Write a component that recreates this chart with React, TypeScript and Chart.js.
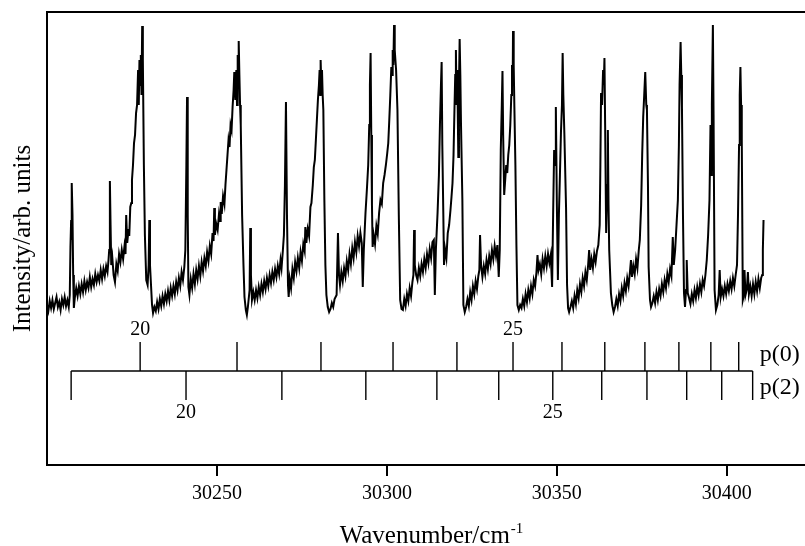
import React, { useEffect, useRef } from "react";
import { Chart, registerables } from "chart.js";

Chart.register(...registerables);

// ---- axis ranges & ticks ----
const X_MIN = 30200;
const X_MAX = 30423;
const Y_MIN = 0;
const Y_MAX = 453;
const X_TICKS = [30250, 30300, 30350, 30400];

// ---- rotational assignment combs (wavenumber of each line) ----
const P0_LINES = [30227.4, 30255.9, 30280.6, 30301.8, 30320.6, 30337.1, 30351.5, 30364.1, 30375.9, 30385.9, 30395.3, 30403.5];
const P2_LINES = [30207.1, 30240.9, 30269.1, 30293.8, 30314.7, 30332.9, 30348.8, 30363.2, 30376.5, 30388.2, 30398.5, 30407.6];
const P0_J_START = 20;
const P2_J_START = 19;
const LABELED_J = [20, 25];
const COMB_NAMES = ["p(0)", "p(2)"];
// comb levels in intensity units
const COMB_BASE = 94;
const P0_TOP = 123;
const P2_BOTTOM = 65;
const P0_LABEL_LEVEL = 135;
const P2_LABEL_LEVEL = 52;
const P0_NAME_LEVEL = 110;
const P2_NAME_LEVEL = 77;

// ---- spectrum [wavenumber, intensity] ----
const SPECTRUM: [number, number][] = [
  [30200.0,160],[30200.4,154],[30200.8,164],[30201.2,157],[30201.6,165],[30202.0,156],[30202.4,162],[30202.8,168],[30203.2,158],[30203.6,163],[30204.0,155],[30204.4,166],[30204.8,160],[30205.2,168],[30205.6,159],[30206.0,165],[30206.4,158],
  [30206.7,170],[30206.9,218],[30207.1,245],[30207.2,225],[30207.35,282],[30207.5,250],[30207.7,190],[30207.9,157],
  [30208.2,168],[30208.6,177],[30209.0,169],[30209.4,179],[30209.8,171],[30210.2,181],[30210.6,173],[30211.0,184],[30211.4,175],[30211.8,183],[30212.2,177],[30212.6,188],[30213.0,178],[30213.4,186],[30213.8,180],[30214.2,191],[30214.6,183],[30215.0,190],[30215.4,184],[30215.8,195],[30216.2,186],[30216.6,196],[30217.0,189],[30217.4,199],[30217.8,193],[30218.1,205],
  [30218.3,215],[30218.5,284],[30218.7,240],[30218.9,200],
  [30219.2,208],[30219.6,190],[30220.0,183],[30220.4,201],[30220.8,194],[30221.2,211],[30221.6,203],[30222.0,215],[30222.4,206],[30222.8,219],[30223.1,211],[30223.3,250],[30223.6,222],[30224.0,236],[30224.2,229],
  [30224.5,258],[30224.8,262],[30225.0,285],[30225.3,300],[30225.6,322],[30225.9,330],[30226.2,352],[30226.5,360],[30226.8,395],[30227.0,360],[30227.2,405],[30227.4,380],[30227.6,410],[30227.8,370],[30228.0,439],[30228.2,405],
  [30228.5,300],[30228.8,230],[30229.2,185],[30229.6,180],[30229.9,200],[30230.1,245],[30230.3,200],[30230.6,180],[30230.9,160],[30231.2,152],[30231.6,158],[30232.0,154],
  [30232.4,163],[30232.8,156],[30233.2,166],[30233.6,159],[30234.0,169],[30234.4,161],[30234.8,171],[30235.2,164],[30235.6,174],[30236.0,165],[30236.4,177],[30236.8,169],[30237.2,179],[30237.6,171],[30238.0,183],[30238.4,175],[30238.8,187],[30239.2,179],[30239.6,193],[30240.0,185],[30240.4,198],[30240.7,215],
  [30241.0,300],[30241.2,368],[30241.4,250],[30241.6,178],
  [30241.9,170],[30242.3,186],[30242.7,177],[30243.1,191],[30243.5,181],[30243.9,195],[30244.3,186],[30244.7,199],[30245.1,189],[30245.5,203],[30245.9,194],[30246.3,207],[30246.7,199],[30247.1,213],[30247.5,204],[30247.9,219],[30248.3,211],[30248.7,232],[30249.0,224],[30249.2,257],[30249.4,230],[30249.8,241],[30250.2,235],[30250.6,251],[30250.9,244],[30251.1,263],[30251.4,251],[30251.8,269],[30252.2,261],[30252.5,280],[30252.8,295],[30253.1,310],[30253.4,325],[30253.7,318],[30254.0,340],[30254.3,335],[30254.6,358],[30254.9,375],[30255.1,393],[30255.4,365],[30255.7,395],[30255.9,360],[30256.1,410],[30256.3,380],[30256.4,424],[30256.6,390],[30256.8,360],
  [30257.0,340],[30257.4,250],[30257.8,200],[30258.1,168],[30258.5,155],[30258.8,150],[30259.1,158],
  [30259.6,175],[30259.8,237],[30260.0,190],[30260.3,165],
  [30260.7,173],[30261.1,165],[30261.5,175],[30261.9,167],[30262.3,178],[30262.7,170],[30263.1,181],[30263.5,173],[30263.9,184],[30264.3,176],[30264.7,187],[30265.1,179],[30265.5,190],[30265.9,182],[30266.3,193],[30266.7,185],[30267.1,196],[30267.5,188],[30267.9,199],[30268.3,191],[30268.7,205],[30269.0,197],[30269.4,215],[30269.7,230],
  [30270.0,280],[30270.3,363],[30270.6,250],[30270.9,180],[30271.1,168],
  [30271.4,186],[30271.8,177],[30272.2,196],[30272.6,187],[30273.0,203],[30273.4,194],[30273.8,207],[30274.2,197],[30274.6,213],[30275.0,204],[30275.4,221],[30275.8,214],[30276.0,238],[30276.3,222],[30276.7,236],[30277.1,229],[30277.5,258],[30277.8,262],[30278.2,280],[30278.5,298],[30278.8,305],[30279.1,325],[30279.4,345],[30279.7,365],[30280.0,380],[30280.2,395],[30280.4,370],[30280.5,405],[30280.7,380],[30280.9,395],[30281.1,370],[30281.3,355],
  [30281.6,265],[30281.9,200],[30282.2,170],[30282.6,158],[30283.0,153],[30283.4,156],[30283.8,162],[30284.2,158],[30284.6,166],
  [30285.2,170],[30285.6,232],[30285.9,190],[30286.2,180],
  [30286.6,193],[30287.0,184],[30287.4,197],[30287.8,189],[30288.2,204],[30288.6,195],[30289.0,211],[30289.4,201],[30289.8,217],[30290.2,207],[30290.6,223],[30291.0,213],[30291.4,229],[30291.8,219],[30292.2,232],[30292.6,222],[30292.9,178],[30293.2,215],
  [30293.7,252],[30294.1,275],[30294.5,300],[30294.8,340],[30295.0,380],[30295.2,412],[30295.4,330],[30295.6,260],[30295.8,218],
  [30296.1,230],[30296.5,221],[30296.9,239],[30297.3,231],[30297.7,252],[30298.1,265],[30298.5,261],[30298.9,282],[30299.3,290],[30299.7,300],[30300.1,312],[30300.4,322],[30300.7,345],[30301.0,370],[30301.3,398],[30301.5,390],[30301.7,415],[30301.9,400],[30302.1,440],[30302.3,415],[30302.5,405],[30302.7,395],
  [30303.1,355],[30303.5,250],[30303.9,165],[30304.3,156],[30304.7,155],
  [30305.1,166],[30305.5,159],[30305.9,171],[30306.3,164],[30306.7,177],[30307.1,169],[30307.5,183],[30307.8,190],[30308.0,235],[30308.2,200],[30308.6,190],[30309.0,185],[30309.4,197],[30309.8,189],[30310.2,201],[30310.6,193],[30311.0,206],[30311.4,197],[30311.8,211],[30312.2,202],[30312.6,216],[30313.0,207],[30313.4,223],[30313.8,225],[30314.1,170],[30314.4,215],
  [30314.9,252],[30315.3,290],[30315.6,340],[30315.9,380],[30316.1,403],[30316.3,320],[30316.6,250],[30316.8,200],
  [30317.1,216],[30317.5,207],[30317.9,232],[30318.3,240],[30318.7,255],[30319.0,268],[30319.3,282],[30319.6,310],[30319.9,360],[30320.1,390],[30320.3,415],[30320.5,360],[30320.7,395],[30321.0,308],[30321.2,380],[30321.4,426],[30321.6,390],[30321.8,340],
  [30322.2,265],[30322.5,160],[30322.9,153],[30323.3,158],
  [30323.7,166],[30324.1,159],[30324.5,173],[30324.9,165],[30325.3,179],[30325.7,171],[30326.1,184],[30326.5,176],[30326.9,189],[30327.2,195],[30327.4,230],[30327.7,200],[30328.1,188],[30328.5,199],[30328.9,191],[30329.3,205],[30329.7,196],[30330.1,209],[30330.5,201],[30330.9,215],[30331.3,206],[30331.7,219],[30332.1,209],[30332.5,220],[30332.9,188],[30333.2,215],
  [30333.5,315],[30333.8,360],[30334.0,394],[30334.2,330],[30334.5,270],
  [30334.8,285],[30335.1,300],[30335.4,292],[30335.7,310],[30336.0,320],[30336.3,340],[30336.6,370],[30336.8,400],[30337.0,380],[30337.1,434],[30337.3,400],[30337.5,358],[30337.8,300],
  [30338.1,220],[30338.4,160],[30338.8,155],[30339.2,160],
  [30339.6,157],[30340.0,166],[30340.4,159],[30340.8,171],[30341.2,163],[30341.6,175],[30342.0,167],[30342.4,179],[30342.8,171],[30343.2,185],[30343.6,179],[30344.0,193],[30344.3,210],[30344.6,195],[30345.0,201],[30345.4,191],[30345.8,206],[30346.2,197],[30346.6,209],[30347.0,199],[30347.4,211],[30347.8,202],[30348.2,210],[30348.6,178],
  [30348.9,250],[30349.2,315],[30349.5,300],[30349.7,358],[30350.0,260],[30350.3,185],[30350.6,250],[30350.9,290],[30351.2,332],[30351.5,360],[30351.7,412],[30351.9,370],[30352.2,332],[30352.7,258],
  [30353.0,180],[30353.3,157],[30353.6,153],[30354.0,158],
  [30354.4,164],[30354.8,157],[30355.2,169],[30355.6,161],[30356.0,175],[30356.4,167],[30356.8,181],[30357.2,173],[30357.6,187],[30358.0,179],[30358.4,193],[30358.8,185],[30359.2,200],[30359.5,215],[30359.8,195],[30360.2,206],[30360.6,197],[30361.0,211],[30361.4,203],[30361.8,214],[30362.2,220],[30362.6,240],[30362.8,300],[30363.0,372],[30363.3,360],[30363.6,395],[30363.8,380],[30364.0,407],[30364.2,340],[30364.5,232],[30364.8,280],[30365.0,335],[30365.2,260],[30365.4,215],[30365.9,172],
  [30366.3,160],[30366.7,153],[30367.1,158],
  [30367.5,166],[30367.9,159],[30368.3,171],[30368.7,164],[30369.1,177],[30369.5,169],[30369.9,182],[30370.3,174],[30370.7,187],[30371.1,179],[30371.5,193],[30371.8,205],[30372.1,188],[30372.5,199],[30372.9,191],[30373.3,206],[30373.7,197],[30374.1,215],[30374.4,225],[30374.8,260],[30375.1,310],[30375.4,348],[30375.7,370],[30376.0,393],[30376.3,360],[30376.5,355],[30376.8,280],[30377.0,198],
  [30377.4,165],[30377.7,158],[30378.1,162],
  [30378.5,169],[30378.9,162],[30379.3,173],[30379.7,165],[30380.1,176],[30380.5,169],[30380.9,181],[30381.3,173],[30381.7,185],[30382.1,177],[30382.5,191],[30382.9,183],[30383.3,196],[30383.7,189],[30384.1,228],[30384.4,200],[30384.8,215],[30385.2,240],[30385.6,265],[30385.9,320],[30386.1,380],[30386.4,423],[30386.6,390],[30386.8,358],[30387.1,250],[30387.4,172],
  [30387.7,158],[30388.0,175],[30388.2,205],[30388.5,172],[30388.9,167],[30389.3,161],[30389.7,171],[30390.1,164],[30390.5,175],[30390.9,167],[30391.3,178],[30391.7,170],[30392.1,181],[30392.5,173],[30392.9,185],[30393.3,179],[30393.7,190],[30394.1,205],[30394.5,230],[30394.9,265],[30395.2,340],[30395.4,290],[30395.6,360],[30395.9,440],[30396.1,350],[30396.4,175],
  [30396.8,155],[30397.2,160],
  [30397.6,170],[30397.9,195],[30398.2,168],[30398.6,176],[30399.0,169],[30399.4,179],[30399.8,171],[30400.2,181],[30400.6,174],[30401.0,184],[30401.4,176],[30401.8,187],[30402.2,179],[30402.6,190],[30403.0,200],[30403.3,252],[30403.6,320],[30403.8,370],[30404.0,398],[30404.2,360],[30404.4,325],[30404.7,165],
  [30404.9,168],[30405.2,195],[30405.5,170],[30405.9,176],[30406.2,193],[30406.5,171],[30406.9,179],[30407.3,169],[30407.7,181],[30408.1,171],[30408.5,183],[30408.9,174],[30409.3,186],[30409.7,177],[30410.1,187],[30410.4,190],[30410.6,215],[30410.8,245],
];

const SERIF = '"Liberation Serif", "Times New Roman", serif';

function combSegments(lines: number[], yEnd: number) {
  const pts: { x: number; y: number | null }[] = [];
  lines.forEach((wn) => {
    pts.push({ x: wn, y: COMB_BASE });
    pts.push({ x: wn, y: yEnd });
    pts.push({ x: wn, y: null });
  });
  return pts;
}

const labelsPlugin = {
  id: "combLabels",
  afterDatasetsDraw(chart: any) {
    const { ctx, scales } = chart;
    const x = scales.x;
    const y = scales.y;
    ctx.save();
    ctx.fillStyle = "#000";
    ctx.font = `20px ${SERIF}`;
    ctx.textAlign = "center";
    ctx.textBaseline = "middle";
    LABELED_J.forEach((j) => {
      const i0 = j - P0_J_START;
      const i2 = j - P2_J_START;
      if (P0_LINES[i0] !== undefined)
        ctx.fillText(String(j), x.getPixelForValue(P0_LINES[i0]), y.getPixelForValue(P0_LABEL_LEVEL));
      if (P2_LINES[i2] !== undefined)
        ctx.fillText(String(j), x.getPixelForValue(P2_LINES[i2]), y.getPixelForValue(P2_LABEL_LEVEL));
    });
    ctx.font = `24px ${SERIF}`;
    ctx.textAlign = "left";
    const nameX = x.getPixelForValue(P2_LINES[P2_LINES.length - 1]) + 7;
    ctx.fillText(COMB_NAMES[0], nameX, y.getPixelForValue(P0_NAME_LEVEL));
    ctx.fillText(COMB_NAMES[1], nameX, y.getPixelForValue(P2_NAME_LEVEL));
    ctx.restore();
  },
  afterDraw(chart: any) {
    const { ctx, chartArea } = chart;
    ctx.save();
    ctx.fillStyle = "#000";
    ctx.textAlign = "left";
    ctx.textBaseline = "alphabetic";
    const main = "Wavenumber/cm";
    const sup = "-1";
    ctx.font = `25px ${SERIF}`;
    const w = ctx.measureText(main).width;
    ctx.font = `15px ${SERIF}`;
    const sw = ctx.measureText(sup).width;
    const cx = (chartArea.left + chartArea.right) / 2 + 5;
    const start = cx - (w + sw) / 2;
    const base = chart.height - 3;
    ctx.font = `25px ${SERIF}`;
    ctx.fillText(main, start, base);
    ctx.font = `15px ${SERIF}`;
    ctx.fillText(sup, start + w + 1, base - 10);
    ctx.restore();
  },
};

export default function App() {
  const ref = useRef<HTMLCanvasElement | null>(null);
  useEffect(() => {
    if (!ref.current) return;
    const chart = new Chart(ref.current, {
      type: "line",
      data: {
        datasets: [
          {
            label: "spectrum",
            data: SPECTRUM.map(([x, y]) => ({ x, y })),
            borderColor: "#000",
            borderWidth: 2,
            pointRadius: 0,
            tension: 0,
          },
          {
            label: "comb base",
            data: [
              { x: P2_LINES[0], y: COMB_BASE },
              { x: P2_LINES[P2_LINES.length - 1], y: COMB_BASE },
            ],
            borderColor: "#000",
            borderWidth: 1.4,
            pointRadius: 0,
          },
          {
            label: "p(0)",
            data: combSegments(P0_LINES, P0_TOP) as any,
            borderColor: "#000",
            borderWidth: 1.4,
            pointRadius: 0,
            spanGaps: false,
          },
          {
            label: "p(2)",
            data: combSegments(P2_LINES, P2_BOTTOM) as any,
            borderColor: "#000",
            borderWidth: 1.4,
            pointRadius: 0,
            spanGaps: false,
          },
        ],
      },
      options: {
        animation: false,
        responsive: false,
        maintainAspectRatio: false,
        devicePixelRatio: 1,
        layout: { padding: 0 },
        plugins: {
          legend: { display: false },
          tooltip: { enabled: false },
        },
        scales: {
          x: {
            type: "linear",
            position: "bottom",
            min: X_MIN,
            max: X_MAX,
            afterBuildTicks: (s: any) => {
              s.ticks = X_TICKS.map((v) => ({ value: v }));
            },
            afterFit: (s: any) => {
              s.height = 81;
            },
            grid: {
              display: true,
              drawOnChartArea: false,
              drawTicks: true,
              tickLength: 11,
              tickWidth: 2,
              tickColor: "#000",
              color: "#000",
              lineWidth: 2,
            },
            border: { display: true, color: "#000", width: 2 },
            ticks: {
              color: "#000",
              font: { family: SERIF, size: 20 },
              padding: 6,
              maxRotation: 0,
              callback: (v: any) => String(v),
            },
          },
          xTop: {
            type: "linear",
            position: "top",
            min: X_MIN,
            max: X_MAX,
            afterFit: (s: any) => {
              s.height = 12;
            },
            grid: { display: false },
            ticks: { display: false },
            border: { display: true, color: "#000", width: 2 },
          },
          y: {
            type: "linear",
            position: "left",
            min: Y_MIN,
            max: Y_MAX,
            afterFit: (s: any) => {
              s.width = 47;
            },
            grid: { display: false },
            ticks: { display: false },
            border: { display: true, color: "#000", width: 2 },
            title: {
              display: true,
              text: "Intensity/arb. units",
              color: "#000",
              font: { family: SERIF, size: 25 },
              padding: { top: 8, bottom: 0 },
            },
          },
        },
      },
      plugins: [labelsPlugin],
    });
    return () => chart.destroy();
  }, []);

  return (
    <div style={{ position: "fixed", left: 0, top: 0, width: 805, height: 546, background: "#fff" }}>
      <canvas ref={ref} width={805} height={546} style={{ display: "block", width: 805, height: 546 }} />
    </div>
  );
}
